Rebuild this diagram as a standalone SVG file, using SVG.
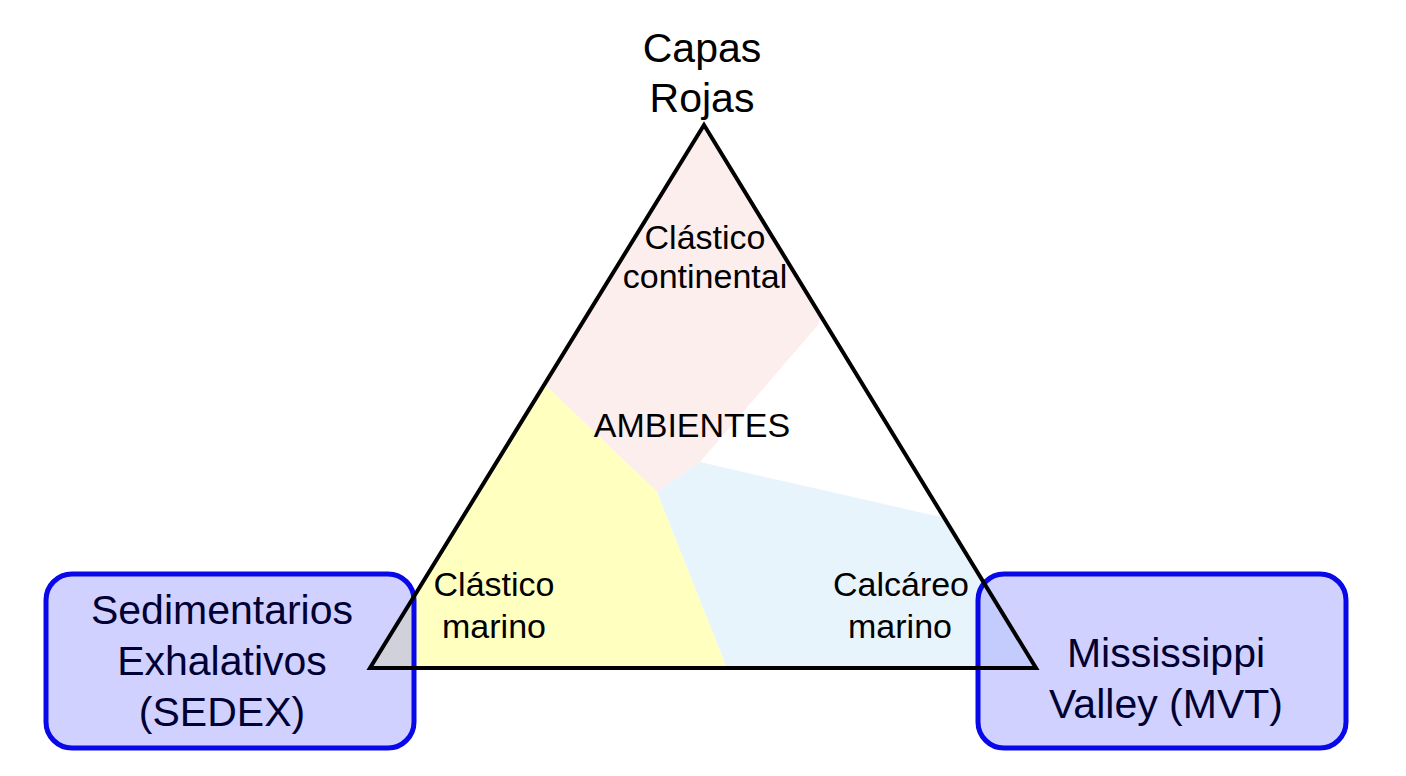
<svg xmlns="http://www.w3.org/2000/svg" width="1406" height="776" viewBox="0 0 1406 776">
<defs>
<style>
text{font-family:"Liberation Sans",Arial,sans-serif;text-anchor:middle;fill:#000}
.big{font-size:41px}
.mid{font-size:34px}
.box{fill:#9999ff;fill-opacity:0.45;stroke:#0808e8;stroke-width:5}
.boxt{font-size:41px;fill:#000033}
</style>
<clipPath id="tri"><polygon points="704,125 370,668 1036,668"/></clipPath>
</defs>
<rect width="1406" height="776" fill="#fff"/>
<g id="triangle">
<g clip-path="url(#tri)">
<polygon points="704,100 400,100 545,385 657,492 700,462 818,325 900,100" fill="#fdeeee"/>
<polygon points="545,385 657,492 727,668 300,668 300,385" fill="#ffffc0"/>
<polygon points="657,492 700,462 945,518 1100,668 727,668" fill="#e8f4fc"/>
</g>
</g>
<g id="sedex">
<rect class="box" x="46" y="574" width="368" height="174" rx="26"/>
<text class="boxt" x="222" y="624">Sedimentarios</text>
<text class="boxt" x="222" y="675">Exhalativos</text>
<text class="boxt" x="222" y="726">(SEDEX)</text>
</g>
<g id="mvt">
<rect class="box" x="978" y="574" width="368" height="174" rx="26"/>
<text class="boxt" x="1166" y="667">Mississippi</text>
<text class="boxt" x="1166" y="718">Valley (MVT)</text>
</g>
<g id="triangle-outline">
<polygon points="704,125 370,668 1036,668" fill="none" stroke="#000" stroke-width="4" stroke-linejoin="miter"/>
</g>
<g id="labels">
<text class="big" x="702" y="62">Capas</text>
<text class="big" x="702" y="112">Rojas</text>
<text class="mid" x="705" y="249">Clástico</text>
<text class="mid" x="705" y="288">continental</text>
<text class="mid" x="692" y="437">AMBIENTES</text>
<text class="mid" x="494" y="596">Clástico</text>
<text class="mid" x="494" y="638">marino</text>
<text class="mid" x="901" y="596">Calcáreo</text>
<text class="mid" x="900" y="638">marino</text>
</g>
<g id="connectors"></g>
</svg>
